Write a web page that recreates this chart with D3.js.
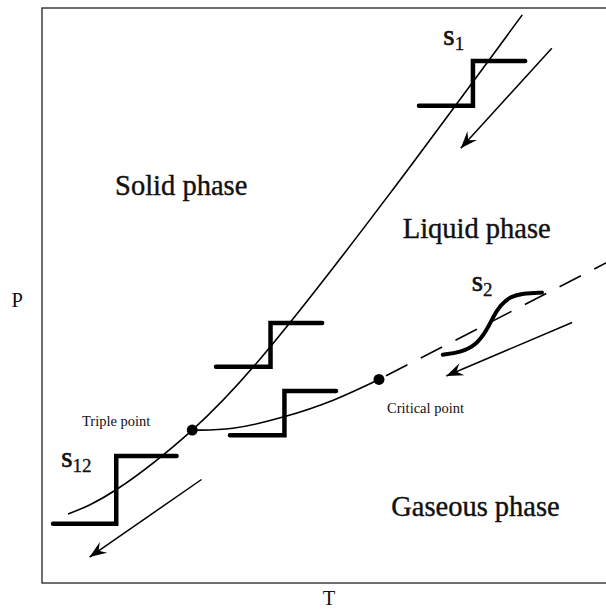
<!DOCTYPE html>
<html>
<head>
<meta charset="utf-8">
<script src="https://cdn.jsdelivr.net/npm/d3@7"></script>
<style>
  html, body { margin: 0; padding: 0; background: #fff; }
  svg { display: block; }
  text { font-family: "Liberation Serif", "Times New Roman", serif; fill: #111; }
</style>
</head>
<body>
<div id="chart"></div>
<script>
// phase diagram, values in arbitrary T / P units (0..100)
const meltingCurve = [
  [4.5, 12.0], [12.9, 16.3], [25.9, 26.6], [39.3, 41.0], [59.8, 67.5], [82.8, 98.8]
];
const boilingCurve = [
  [25.9, 26.6], [32.9, 26.9], [41.7, 28.9], [50.2, 31.8], [58.1, 35.4]
];
const supercritical = [[58.1, 35.4], [100, 57.1]];
const triplePoint = [25.9, 26.6];
const criticalPoint = [58.1, 35.4];

// step transitions
const stepS1 = [[65.0, 83.0], [74.3, 83.0], [74.3, 90.8], [83.3, 90.8]];
const stepMelt = [[30.0, 37.6], [39.4, 37.6], [39.4, 45.2], [48.3, 45.2]];
const stepBoil = [[32.4, 25.7], [41.8, 25.7], [41.8, 33.4], [50.7, 33.4]];
const stepS12 = [[1.9, 10.3], [12.8, 10.3], [12.8, 22.1], [23.2, 22.1]];
const smoothS2 = [
  [69.1, 39.7], [72.1, 40.1], [74.9, 41.4], [76.7, 44.0], [77.8, 46.3],
  [79.0, 48.3], [80.7, 49.8], [82.9, 50.4], [86.2, 50.5]
];

// arrows: [from, to]
const arrows = [
  [[87.9, 93.0], [72.2, 75.6]],
  [[91.4, 45.3], [69.7, 36.0]],
  [[27.5, 18.0], [8.2, 4.5]]
];

const phaseLabels = [
  { text: "Solid phase", at: [12.6, 67.5] },
  { text: "Liquid phase", at: [62.2, 60.0] },
  { text: "Gaseous phase", at: [60.2, 11.7] }
];
const pointLabels = [
  { text: "Triple point", at: [6.9, 27.3] },
  { text: "Critical point", at: [59.5, 29.5] }
];
const pathLabels = [
  { main: "s", sub: "1", at: [69.2, 93.6] },
  { main: "s", sub: "2", at: [74.1, 50.8] },
  { main: "s", sub: "12", at: [3.3, 20.2] }
];

const width = 606, height = 610;
const x = d3.scaleLinear().domain([0, 100]).range([42, 622]);
const y = d3.scaleLinear().domain([0, 100]).range([583, 8]);

const svg = d3.select("#chart").append("svg")
  .attr("width", width)
  .attr("height", height);

svg.append("defs").append("marker")
    .attr("id", "arrowhead")
    .attr("viewBox", "-18 -8 20 16")
    .attr("refX", 0)
    .attr("refY", 0)
    .attr("markerWidth", 20)
    .attr("markerHeight", 16)
    .attr("markerUnits", "userSpaceOnUse")
    .attr("orient", "auto")
  .append("path")
    .attr("d", "M0,0 L-17,-6.5 L-11,0 L-17,6.5 Z")
    .attr("fill", "#000");

// frame (right side runs off the picture)
svg.append("rect")
  .attr("x", x(0))
  .attr("y", y(100))
  .attr("width", 600)
  .attr("height", y(0) - y(100))
  .attr("fill", "none")
  .attr("stroke", "#222")
  .attr("stroke-width", 1.3);

const line = d3.line().x(d => x(d[0])).y(d => y(d[1]));
const smooth = d3.line().x(d => x(d[0])).y(d => y(d[1])).curve(d3.curveNatural);
const soft = d3.line().x(d => x(d[0])).y(d => y(d[1])).curve(d3.curveBasis);

const curves = svg.append("g")
  .attr("fill", "none")
  .attr("stroke", "#000");

curves.append("path")
  .attr("d", smooth(meltingCurve))
  .attr("stroke-width", 1.6);

curves.append("path")
  .attr("d", smooth(boilingCurve))
  .attr("stroke-width", 1.6);

curves.append("path")
  .attr("d", line(supercritical))
  .attr("stroke-width", 1.6)
  .attr("stroke-dasharray", "24,15")
  .attr("stroke-dashoffset", -8);

// thick step paths
const steps = svg.append("g")
  .attr("fill", "none")
  .attr("stroke", "#000")
  .attr("stroke-width", 4.5)
  .attr("stroke-linecap", "round")
  .attr("stroke-linejoin", "miter");

[stepS1, stepMelt, stepBoil, stepS12].forEach(s => {
  steps.append("path").attr("d", line(s));
});
steps.append("path").attr("d", soft(smoothS2)).attr("stroke-width", 4);

// points
svg.append("g")
  .selectAll("circle")
  .data([triplePoint, criticalPoint])
  .join("circle")
    .attr("cx", d => x(d[0]))
    .attr("cy", d => y(d[1]))
    .attr("r", 5.5)
    .attr("fill", "#000");

// arrows
svg.append("g")
  .attr("stroke", "#000")
  .attr("stroke-width", 1.5)
  .selectAll("line")
  .data(arrows)
  .join("line")
    .attr("x1", d => x(d[0][0]))
    .attr("y1", d => y(d[0][1]))
    .attr("x2", d => x(d[1][0]))
    .attr("y2", d => y(d[1][1]))
    .attr("marker-end", "url(#arrowhead)");

// labels
svg.append("g")
  .selectAll("text")
  .data(phaseLabels)
  .join("text")
    .attr("x", d => x(d.at[0]))
    .attr("y", d => y(d.at[1]))
    .attr("font-size", 28.5)
    .attr("stroke", "#111")
    .attr("stroke-width", 0.4)
    .text(d => d.text);

svg.append("g")
  .selectAll("text")
  .data(pointLabels)
  .join("text")
    .attr("x", d => x(d.at[0]))
    .attr("y", d => y(d.at[1]))
    .attr("font-size", 14.5)
    .text(d => d.text);

const pl = svg.append("g")
  .selectAll("text")
  .data(pathLabels)
  .join("text")
    .attr("x", d => x(d.at[0]))
    .attr("y", d => y(d.at[1]))
    .attr("font-size", 29)
    .attr("stroke", "#111")
    .attr("stroke-width", 0.6);
pl.append("tspan").text(d => d.main);
pl.append("tspan")
  .attr("font-size", 19)
  .attr("stroke-width", 0.3)
  .attr("dy", 5)
  .text(d => d.sub);

svg.append("text")
  .attr("x", 11.5)
  .attr("y", 306.5)
  .attr("font-size", 20.5)
  .text("P");

svg.append("text")
  .attr("x", 329)
  .attr("y", 605)
  .attr("text-anchor", "middle")
  .attr("font-size", 20.5)
  .text("T");
</script>
</body>
</html>
